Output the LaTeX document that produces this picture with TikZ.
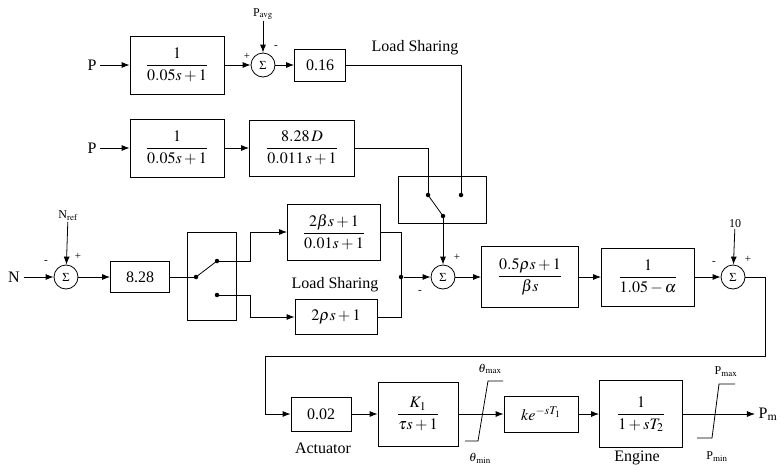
\documentclass[tikz,border=0pt]{standalone}
\usepackage{mathptmx}
\usepackage{fontspec}
\setmainfont{Liberation Serif}
\usetikzlibrary{positioning,calc,arrows.meta}

\begin{document}
\begin{tikzpicture}[x=1pt,y=-1pt,>={Latex[length=8pt,width=6pt]}, line width=0.8pt,
  font=\fontsize{16}{18}\selectfont]

\tikzset{
  blk/.style={draw, inner sep=2pt},
  sumn/.style={draw, circle, minimum size=24pt, inner sep=0pt, font=\fontsize{12}{13}\selectfont},
  sml/.style={inner sep=0.5pt, font=\fontsize{12}{13}\selectfont},
  sgn/.style={inner sep=0.5pt, font=\fontsize{11}{12}\selectfont},
  jdot/.style={circle, fill, inner sep=0pt, minimum size=4.5pt},
}
\useasboundingbox (0,0) rectangle (784,469);

% -----------------------------------------
% load sharing path (top two rows)
% -----------------------------------------
\node (pin1) at (92,65) {P};
\node[blk, minimum width=94pt, minimum height=58pt] (f1) at (177,65) {$\displaystyle\frac{1}{0.05s+1}$};
\node[sumn] (s1) at (263,65) {$\Sigma$};
\node[sml] (pavg) at (263,14) {P$_{\mathrm{avg}}$};
\node[sgn] at (247,56) {+};
\node[sgn] at (276,47) {-};
\node[blk, minimum width=51pt, minimum height=32pt] (k016) at (320,65) {0.16};
\node (ls1) at (415,48) {Load Sharing};

\node (pin2) at (92,148) {P};
\node[blk, minimum width=94pt, minimum height=58pt] (f2) at (177,148) {$\displaystyle\frac{1}{0.05s+1}$};
\node[blk, minimum width=105pt, minimum height=56pt] (f3) at (302,148) {$\displaystyle\frac{8.28\,D}{0.011\,s+1}$};

\draw[->] (pin1) -- (f1);
\draw[->] (f1) -- (s1);
\draw[->] (pavg) -- (s1);
\draw[->] (s1) -- (k016);
\draw[->] (pin2) -- (f2);
\draw[->] (f2) -- (f3);

% switch 1
\node[draw, minimum width=88pt, minimum height=47pt] (sw1) at (442,200) {};
\node[jdot] (c1a) at (428,195) {};
\node[jdot] (c1b) at (461,195) {};
\node[jdot] (c1c) at (443,216) {};
\draw (k016.east) -| (c1b.center);
\draw (f3.east) -| (c1a.center);
\draw (c1a.center) -- (c1c.center);

% -----------------------------------------
% speed loop (middle row)
% -----------------------------------------
\node (nin) at (14,277) {N};
\node[sumn] (s0) at (66,277) {$\Sigma$};
\node[sml] (nref) at (68,216) {N$_{\mathrm{ref}}$};
\node[sgn] at (46,262) {-};
\node[sgn] at (78,256) {+};
\node[blk, minimum width=59pt, minimum height=31pt] (k828) at (140,277) {8.28};

\draw[->] (nin) -- (s0);
\draw[->] (nref) -- (s0);
\draw[->] (s0) -- (k828);

% switch 2
\node[draw, minimum width=49pt, minimum height=88pt] (sw2) at (212,276) {};
\node[jdot] (d0) at (196,277) {};
\node[jdot] (d1) at (217,261) {};
\node[jdot] (d2) at (217,295) {};
\draw (k828.east) -- (d0.center);
\draw (d0.center) -- (d1.center);

\node[blk, minimum width=93pt, minimum height=56pt] (g1) at (334,232) {$\displaystyle\frac{2\beta s+1}{0.01s+1}$};
\node[blk, minimum width=82pt, minimum height=35pt] (g2) at (336,317) {$2\rho s+1$};
\node (ls2) at (335,285) {Load Sharing};

\draw[->] (d1.center) -- ++(33,0) |- (g1.west);
\draw[->] (d2.center) -- ++(33,0) |- (g2.west);

\node[jdot] (j1) at (401,277) {};
\draw (g1.east) -| (j1.center);
\draw (g2.east) -| (j1.center);

\node[sumn] (s2) at (443,277) {$\Sigma$};
\node[sgn] at (457,257) {+};
\node[sgn] at (420,292) {-};
\draw[->] (j1) -- (s2);
\draw[->] (c1c.center) -- (s2);

\node[blk, minimum width=97pt, minimum height=61pt] (h1) at (530,277) {$\displaystyle\frac{0.5\rho s+1}{\beta s}$};
\node[blk, minimum width=93pt, minimum height=58pt] (h2) at (648,277) {$\displaystyle\frac{1}{1.05-\alpha}$};
\node[sumn] (s3) at (733,277) {$\Sigma$};
\node[sml] (ten) at (735,224) {10};
\node[sgn] at (714,263) {-};
\node[sgn] at (748,259) {+};

\draw[->] (s2) -- (h1);
\draw[->] (h1) -- (h2);
\draw[->] (h2) -- (s3);
\draw[->] (ten) -- (s3);

% -----------------------------------------
% actuator / engine (bottom row)
% -----------------------------------------
\coordinate (r1) at (765,356);
\coordinate (r2) at (265,356);

\node[blk, minimum width=60pt, minimum height=34pt] (a1) at (321,414) {0.02};
\node (act) at (323,448) {Actuator};
\node[blk, minimum width=80pt, minimum height=64pt] (a2) at (418,414) {$\displaystyle\frac{K_1}{\tau s+1}$};
\node[blk, minimum width=74pt, minimum height=36pt] (a3) at (541,414) {$ke^{-sT_1}$};
\node[blk, minimum width=83pt, minimum height=67pt] (a4) at (641,414) {$\displaystyle\frac{1}{1+sT_2}$};
\node (eng) at (637,458) {Engine};
\node (pm) at (768,414) {P$_{\mathrm{m}}$};

\draw[->] (s3.east) -| (r1) -- (r2) |- (a1.west);
\draw[->] (a1) -- (a2);
\draw[->] (a2) -- (a3);
\draw[->] (a3) -- (a4);
\draw[->] (a4) -- (pm);

% limiters
\draw (465,441) -- (478,441) -- (488,381) -- (503,381);
\node[sml] at (490,369) {$\theta_{\,\max}$};
\node[sml] at (480,458) {$\theta_{\,\min}$};
\draw (697,438) -- (712,438) -- (719,384) -- (735,384);
\node[sml] at (726,372) {P$_{\max}$};
\node[sml] at (717,457) {P$_{\min}$};

\end{tikzpicture}
\end{document}
